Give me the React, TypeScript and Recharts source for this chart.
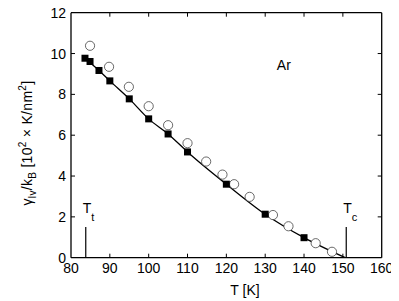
import React from 'react';
import { ComposedChart, Line, Scatter, XAxis, YAxis, ReferenceLine, ReferenceDot } from 'recharts';

// simulation (filled squares)
const simT = [83.6, 84.9, 87.2, 90, 95, 100, 105, 110, 120, 130, 140];
const simGamma = [9.77, 9.61, 9.17, 8.66, 7.78, 6.8, 6.06, 5.18, 3.6, 2.13, 0.98];

// experiment (open circles)
const expT = [84.9, 89.8, 94.9, 100, 105, 110, 114.8, 119, 122, 126, 132, 136, 143, 147.2];
const expGamma = [10.38, 9.35, 8.37, 7.42, 6.49, 5.61, 4.71, 4.07, 3.6, 2.98, 2.09, 1.54, 0.71, 0.29];

// fitted curve
const fitT = [83.6, 87.2, 90, 95, 100, 105, 110, 120, 130, 140, 150.6];
const fitGamma = [9.77, 9.17, 8.66, 7.78, 6.8, 6.06, 5.18, 3.6, 2.13, 0.98, 0];

const xTicks = [80, 90, 100, 110, 120, 130, 140, 150, 160];
const yTicks = [0, 2, 4, 6, 8, 10, 12];

const Tt = 83.8;
const Tc = 150.87;
const markH = 1.5;

const W = 391;
const H = 293;
const AX_W = 30;
const AX_H = 30;
const margin = { top: 4.7, right: 17.3, bottom: 43.3 - AX_H, left: 63 - AX_W };
const plotW = W - margin.left - AX_W - margin.right;
const plotH = H - margin.top - margin.bottom - AX_H;
const FONT = '"Liberation Sans", Arial, sans-serif';

const sim = simT.map((T, i) => ({ T, g: simGamma[i] }));
const exp = expT.map((T, i) => ({ T, g: expGamma[i] }));
const fit = fitT.map((T, i) => ({ T, g: fitGamma[i] }));

const XTick = (props: any) => {
  const { x, y, payload } = props;
  const edge = payload.value === 80 || payload.value === 160;
  return (
    <g>
      {!edge && <line x1={x} y1={y} x2={x} y2={y - 4} stroke="#000" />}
      {!edge && <line x1={x} y1={y - plotH} x2={x} y2={y - plotH + 4} stroke="#000" />}
      <text x={x} y={y + 15.5} textAnchor="middle" fontSize={14} fontFamily={FONT} fill="#000">
        {payload.value}
      </text>
    </g>
  );
};

const YTick = (props: any) => {
  const { x, y, payload } = props;
  const edge = payload.value === 0 || payload.value === 12;
  return (
    <g>
      {!edge && <line x1={x} y1={y} x2={x + 4} y2={y} stroke="#000" />}
      {!edge && <line x1={x + plotW} y1={y} x2={x + plotW - 4} y2={y} stroke="#000" />}
      <text x={x - 5} y={y + 5} textAnchor="end" fontSize={14} fontFamily={FONT} fill="#000">
        {payload.value}
      </text>
    </g>
  );
};

const YLabel = () => (
  <text transform="rotate(-90)" x={-135} y={24} textAnchor="middle" fontSize={14} letterSpacing={0.3} fontFamily={FONT} fill="#000">
    γ<tspan fontSize={10} dy={4}>lv</tspan>
    <tspan dy={-4}>/k</tspan>
    <tspan fontSize={10} dy={4}>B</tspan>
    <tspan dy={-4}> [10</tspan>
    <tspan fontSize={10} dy={-6}>2</tspan>
    <tspan dy={6}> × K/nm</tspan>
    <tspan fontSize={10} dy={-6}>2</tspan>
    <tspan dy={6}>]</tspan>
  </text>
);

const XLabel = () => (
  <text x={237} y={287} textAnchor="middle" fontSize={14} fontFamily={FONT} fill="#000">
    T [K]
  </text>
);

const SubLabel = (main: string, sub: string) => (props: any) => {
  const { viewBox } = props;
  return (
    <text x={viewBox.x - 3} y={viewBox.y - 14} fontSize={14} fontFamily={FONT} fill="#000">
      {main}
      <tspan fontSize={11} dy={8}>{sub}</tspan>
    </text>
  );
};

const ArLabel = (props: any) => {
  const { viewBox } = props;
  return (
    <text x={viewBox.x} y={viewBox.y + 5} textAnchor="middle" fontSize={14} fontFamily={FONT} fill="#000">
      Ar
    </text>
  );
};

const Square = (props: any) => {
  const { cx, cy } = props;
  return <rect x={cx - 3.5} y={cy - 3.5} width={7} height={7} fill="#000" />;
};

const Circle = (props: any) => {
  const { cx, cy } = props;
  return <circle cx={cx} cy={cy} r={4.6} fill="#fff" stroke="#444" strokeWidth={0.8} />;
};

export default function App() {
  return (
    <ComposedChart width={W} height={H} margin={margin}>
      <XAxis
        type="number"
        dataKey="T"
        domain={[80, 160]}
        ticks={xTicks}
        interval={0}
        height={AX_H}
        tickSize={0}
        tickMargin={0}
        tickLine={false}
        tick={<XTick />}
        axisLine={{ stroke: '#000', strokeWidth: 1.3 }}
        label={<XLabel />}
        allowDataOverflow
      />
      <YAxis
        type="number"
        dataKey="g"
        domain={[0, 12]}
        ticks={yTicks}
        interval={0}
        width={AX_W}
        tickSize={0}
        tickMargin={0}
        tickLine={false}
        tick={<YTick />}
        axisLine={{ stroke: '#000', strokeWidth: 1.3 }}
        label={<YLabel />}
        allowDataOverflow
      />
      <ReferenceLine y={12} stroke="#000" strokeWidth={1.3} />
      <ReferenceLine x={160} stroke="#000" strokeWidth={1.3} />
      <ReferenceLine segment={[{ x: Tt, y: 0 }, { x: Tt, y: markH }]} stroke="#000" strokeWidth={1.2} />
      <ReferenceLine segment={[{ x: Tc, y: 0 }, { x: Tc, y: markH }]} stroke="#000" strokeWidth={1.2} />
      <ReferenceDot x={Tt} y={markH} r={0} stroke="none" label={SubLabel('T', 't')} />
      <ReferenceDot x={Tc} y={markH} r={0} stroke="none" label={SubLabel('T', 'c')} />
      <ReferenceDot x={134.8} y={9.45} r={0} stroke="none" label={ArLabel} />
      <Line data={fit} dataKey="g" type="monotone" stroke="#000" strokeWidth={1.3} dot={false} isAnimationActive={false} />
      <Scatter data={exp} dataKey="g" shape={Circle} isAnimationActive={false} />
      <Scatter data={sim} dataKey="g" shape={Square} isAnimationActive={false} />
    </ComposedChart>
  );
}
